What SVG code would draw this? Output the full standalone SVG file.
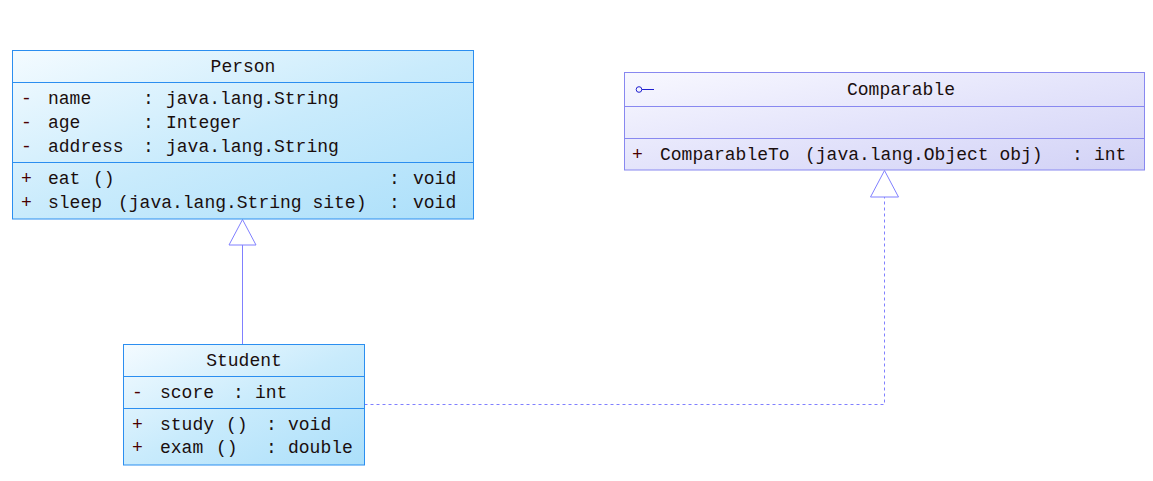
<svg xmlns="http://www.w3.org/2000/svg" width="1153" height="481" viewBox="0 0 1153 481">
<style>
.t{font-family:"Liberation Mono","DejaVu Sans Mono",monospace;font-size:18px;fill:#1a0e0e}
.s{fill:#4a0000}
.blue{stroke:#2b8ef0;stroke-width:1;fill:none}
.purp{stroke:#8888f0;stroke-width:1;fill:none}
.conn{stroke:#8080ff;stroke-width:1;fill:none}
</style>
<defs>
<linearGradient id="gb" x1="0" y1="0" x2="1" y2="1">
<stop offset="0" stop-color="#f4fbff"/>
<stop offset="0.5" stop-color="#c9ebfc"/>
<stop offset="1" stop-color="#abdffa"/>
</linearGradient>
<linearGradient id="gp" x1="0" y1="0" x2="1" y2="1">
<stop offset="0" stop-color="#f8f8ff"/>
<stop offset="0.5" stop-color="#e4e4fb"/>
<stop offset="1" stop-color="#d2d2f6"/>
</linearGradient>
</defs>
<rect width="1153" height="481" fill="#ffffff"/>

<g id="connectors">
<line class="conn" x1="242.5" y1="245" x2="242.5" y2="344.5"/>
<polygon class="conn" fill="#ffffff" points="242.5,219.5 229,245 256,245"/>
<polyline class="conn" stroke-dasharray="3,3" points="364.5,404.5 884.5,404.5 884.5,197"/>
<polygon class="conn" fill="#ffffff" points="884.5,170.5 870.5,197 898.5,197"/>
</g>

<g id="Person">
<rect x="12.5" y="50.5" width="461" height="168.5" fill="url(#gb)"/>
<rect class="blue" x="12.5" y="50.5" width="461" height="168.5"/>
<line class="blue" x1="12.5" y1="82.5" x2="473.5" y2="82.5"/>
<line class="blue" x1="12.5" y1="162.5" x2="473.5" y2="162.5"/>
<text class="t" x="243" y="72" text-anchor="middle">Person</text>
<text class="t s" x="21" y="104">-</text><text class="t" x="48" y="104">name</text><text class="t" x="143" y="104">:</text><text class="t" x="166" y="104">java.lang.String</text>
<text class="t s" x="21" y="128">-</text><text class="t" x="48" y="128">age</text><text class="t" x="143" y="128">:</text><text class="t" x="166" y="128">Integer</text>
<text class="t s" x="21" y="152">-</text><text class="t" x="48" y="152">address</text><text class="t" x="143" y="152">:</text><text class="t" x="166" y="152">java.lang.String</text>
<text class="t s" x="21" y="184">+</text><text class="t" x="48" y="184">eat</text><text class="t" x="93" y="184">()</text><text class="t" x="389" y="184">:</text><text class="t" x="413" y="184">void</text>
<text class="t s" x="21" y="208">+</text><text class="t" x="48" y="208">sleep</text><text class="t" x="118" y="208">(java.lang.String site)</text><text class="t" x="389" y="208">:</text><text class="t" x="413" y="208">void</text>
</g>

<g id="Comparable">
<rect x="624.5" y="72.5" width="520" height="97.5" fill="url(#gp)"/>
<rect class="purp" x="624.5" y="72.5" width="520" height="97.5"/>
<line class="purp" x1="624.5" y1="106.5" x2="1144.5" y2="106.5"/>
<line class="purp" x1="624.5" y1="138.5" x2="1144.5" y2="138.5"/>
<circle cx="639" cy="89.5" r="2.8" fill="none" stroke="#2020d0" stroke-width="1"/>
<line x1="641.8" y1="89.5" x2="654" y2="89.5" stroke="#2020d0" stroke-width="1"/>
<text class="t" x="901" y="95" text-anchor="middle">Comparable</text>
<text class="t s" x="632" y="160">+</text><text class="t" x="660" y="160">ComparableTo</text><text class="t" x="805" y="160">(java.lang.Object obj)</text><text class="t" x="1072" y="160">:</text><text class="t" x="1094" y="160">int</text>
</g>

<g id="Student">
<rect x="123.5" y="344.5" width="241" height="120.5" fill="url(#gb)"/>
<rect class="blue" x="123.5" y="344.5" width="241" height="120.5"/>
<line class="blue" x1="123.5" y1="376.5" x2="364.5" y2="376.5"/>
<line class="blue" x1="123.5" y1="408.5" x2="364.5" y2="408.5"/>
<text class="t" x="244" y="366" text-anchor="middle">Student</text>
<text class="t s" x="132" y="398">-</text><text class="t" x="160" y="398">score</text><text class="t" x="233" y="398">:</text><text class="t" x="255" y="398">int</text>
<text class="t s" x="132" y="430">+</text><text class="t" x="160" y="430">study</text><text class="t" x="226" y="430">()</text><text class="t" x="266" y="430">:</text><text class="t" x="288" y="430">void</text>
<text class="t s" x="132" y="453">+</text><text class="t" x="160" y="453">exam</text><text class="t" x="216" y="453">()</text><text class="t" x="266" y="453">:</text><text class="t" x="288" y="453">double</text>
</g>
</svg>
